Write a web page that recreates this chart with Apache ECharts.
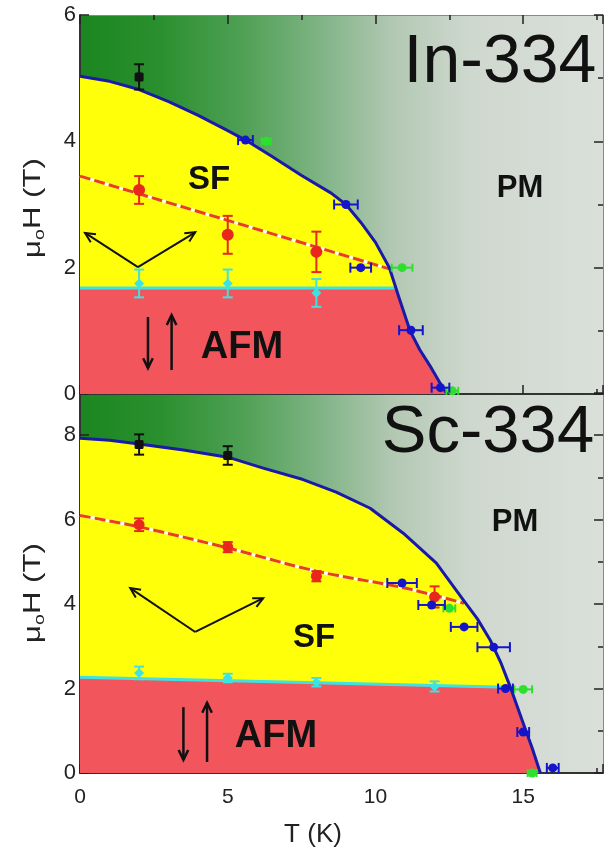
<!DOCTYPE html>
<html><head><meta charset="utf-8">
<script src="https://cdn.jsdelivr.net/npm/echarts@6/dist/echarts.min.js"></script>
<style>html,body{margin:0;padding:0;background:#fff}#c{width:606px;height:855px}</style>
</head><body><div id="c"></div>
<script>
// ---------- axis ticks ----------
const tTicks = [0, 5, 10, 15];
const inHTicks = [0, 2, 4, 6];
const scHTicks = [0, 2, 4, 6, 8];

// ---------- In-334 (top panel) ----------
const inBoundary = [[0,5.03],[1,4.95],[2,4.82],[3,4.63],[4,4.41],[5,4.17],[5.6,4.02],[6.5,3.76],[7.5,3.46],[8.5,3.18],[9.0,3.0],[9.5,2.72],[10.0,2.4],[10.47,2.0],[10.8,1.52],[11.17,1.0],[11.5,0.7],[11.84,0.45],[12.15,0.2],[12.42,0]];
const inSfLine = [[0,3.45],[10.47,1.98]];
const inAfmLine = [[0,1.68],[10.7,1.68]];
const inBlack = [[2,5.02,0.2]];
const inRed = [[2,3.23,0.22],[5,2.52,0.3],[8,2.25,0.32]];
const inCyan = [[2,1.75,0.22],[5,1.75,0.22],[8,1.6,0.22]];
const inBlue = [[5.6,4.02,0.25],[9.0,3.0,0.4],[9.5,2.0,0.35],[11.2,1.01,0.4],[12.2,0.1,0.3]];
const inGreen = [[6.3,4.0,0.15],[10.9,2.0,0.35],[12.6,0.05,0.2]];
const inArrows = [[1.96,2.01,0.17,2.55],[1.96,2.01,3.9,2.56],[2.3,1.22,2.3,0.41],[3.1,0.38,3.1,1.25]];

// ---------- Sc-334 (bottom panel) ----------
const scBoundary = [[0,7.93],[1,7.88],[2,7.79],[3.5,7.65],[5,7.48],[6.2,7.22],[7.55,6.95],[8.67,6.65],[9.82,6.27],[10.94,5.68],[12.06,4.97],[12.97,4.1],[13.45,3.65],[13.88,3.15],[14.25,2.6],[14.56,2.04],[15,1.18],[15.3,0.6],[15.58,0]];
const scSfLine = [[0,6.1],[2,5.83],[5,5.33],[8,4.78],[11,4.38],[13,4.02]];
const scAfmLine = [[0,2.27],[14.55,2.03]];
const scBlack = [[2,7.78,0.24],[5,7.52,0.22]];
const scRed = [[2,5.88,0.15],[5,5.35,0.12],[8,4.66,0.12],[12,4.17,0.25]];
const scCyan = [[2,2.37,0.15],[5,2.25,0.1],[8,2.15,0.1],[12,2.05,0.12]];
const scBlue = [[10.9,4.5,0.5],[11.9,3.98,0.45],[13.0,3.46,0.45],[14.0,2.98,0.55],[14.4,2.0,0.25],[15.0,0.97,0.2],[16.0,0.12,0.2]];
const scGreen = [[12.5,3.9,0.2],[15.0,1.98,0.3],[15.3,0.0,0.15]];
const scArrows = [[3.9,3.34,1.7,4.38],[3.9,3.34,6.2,4.14],[3.5,1.56,3.5,0.31],[4.3,0.26,4.3,1.66]];

const FONT = 'Liberation Sans, Arial, sans-serif';
const C = {yellow:'#ffff0a', red:'#f2555c', blue:'#1a1aa8', cyan:'#3fe2e2', redPt:'#e8281c', dash:'#e8401a', green:'#2ee02e', black:'#111'};

function redArea(afm, boundary){
  const end = afm[afm.length-1];
  const pts = afm.map(p => p.slice());
  boundary.forEach(p => { if (p[0] > end[0] && p[1] < end[1]) pts.push(p.slice()); });
  return pts;
}

function axesFor(gi, hMax, hTicks, showX){
  const hInt = hTicks[1]-hTicks[0];
  const tInt = tTicks[1]-tTicks[0];
  const xs = [
    {gridIndex:gi, type:'value', min:0, max:17.7, interval:tInt, position:'bottom',
     axisLine:{show:true, onZero:false, lineStyle:{color:'#333', width:2}},
     axisTick:{show:true, inside:true, length:9, lineStyle:{color:'#222', width:1.5}},
     minorTick:{show:true, splitNumber:2, length:5, lineStyle:{color:'#222', width:1.5}},
     axisLabel:{show:showX, showMaxLabel:false, color:'#222', fontSize:21, fontFamily:FONT, margin:14},
     splitLine:{show:false}, minorSplitLine:{show:false}}
  ];
  if (gi === 0) xs.push({gridIndex:gi, type:'value', min:0, max:17.7, interval:tInt, position:'top',
     axisLine:{show:true, onZero:false, lineStyle:{color:'#888', width:1}},
     axisTick:{show:true, inside:true, length:9, lineStyle:{color:'#222', width:1.5}},
     minorTick:{show:true, splitNumber:2, length:5, lineStyle:{color:'#222', width:1.5}},
     axisLabel:{show:false}, splitLine:{show:false}});
  const ys = [
    {gridIndex:gi, type:'value', min:0, max:hMax, interval:hInt, position:'left',
     axisLine:{show:true, onZero:false, lineStyle:{color:'#333', width:2}},
     axisTick:{show:true, inside:true, length:9, lineStyle:{color:'#222', width:1.5}},
     minorTick:{show:true, splitNumber:2, length:5, lineStyle:{color:'#222', width:1.5}},
     axisLabel:{show:true, showMaxLabel: hMax % hInt === 0, color:'#222', fontSize:22, fontFamily:FONT, margin:4},
     splitLine:{show:false}},
    {gridIndex:gi, type:'value', min:0, max:hMax, interval:hInt, position:'right',
     axisLine:{show:true, onZero:false, lineStyle:{color:'#888', width:1}},
     axisTick:{show:true, inside:true, length:9, lineStyle:{color:'#222', width:1.5}},
     minorTick:{show:true, splitNumber:2, length:5, lineStyle:{color:'#222', width:1.5}},
     axisLabel:{show:false}, splitLine:{show:false}}
  ];
  return {xs, ys};
}

function pointSeries(data, xi, yi, opt){
  return {
    type:'custom', xAxisIndex:xi, yAxisIndex:yi, z:10, silent:true,
    data: data,
    renderItem: function(params, api){
      const x = api.value(0), y = api.value(1), e = api.value(2);
      const c = api.coord([x, y]);
      const ch = [];
      const ls = {stroke: opt.color, lineWidth: opt.errWidth || 2};
      const cap = opt.cap || 5;
      if (opt.dir === 'y') {
        const a = api.coord([x, y - e]), b = api.coord([x, y + e]);
        ch.push({type:'line', shape:{x1:c[0], y1:a[1], x2:c[0], y2:b[1]}, style:ls});
        ch.push({type:'line', shape:{x1:c[0]-cap, y1:a[1], x2:c[0]+cap, y2:a[1]}, style:ls});
        ch.push({type:'line', shape:{x1:c[0]-cap, y1:b[1], x2:c[0]+cap, y2:b[1]}, style:ls});
      } else {
        const a = api.coord([x - e, y]), b = api.coord([x + e, y]);
        ch.push({type:'line', shape:{x1:a[0], y1:c[1], x2:b[0], y2:c[1]}, style:ls});
        ch.push({type:'line', shape:{x1:a[0], y1:c[1]-cap, x2:a[0], y2:c[1]+cap}, style:ls});
        ch.push({type:'line', shape:{x1:b[0], y1:c[1]-cap, x2:b[0], y2:c[1]+cap}, style:ls});
      }
      const r = opt.r;
      if (opt.shape === 'square') ch.push({type:'rect', shape:{x:c[0]-r, y:c[1]-r, width:2*r, height:2*r, r:1.5}, style:{fill:opt.color}});
      else if (opt.shape === 'diamond') ch.push({type:'polygon', shape:{points:[[c[0],c[1]-r],[c[0]+r,c[1]],[c[0],c[1]+r],[c[0]-r,c[1]]]}, style:{fill:opt.color}});
      else ch.push({type:'circle', shape:{cx:c[0], cy:c[1], r:r}, style:{fill:opt.color}});
      return {type:'group', children:ch};
    }
  };
}

function arrowSeries(data, xi, yi, width){
  return {
    type:'custom', xAxisIndex:xi, yAxisIndex:yi, z:11, silent:true, data:data,
    renderItem: function(params, api){
      const p1 = api.coord([api.value(0), api.value(1)]);
      const p2 = api.coord([api.value(2), api.value(3)]);
      const ang = Math.atan2(p2[1]-p1[1], p2[0]-p1[0]);
      const L = 11, s = 0.45;
      const h1 = [p2[0]-L*Math.cos(ang-s), p2[1]-L*Math.sin(ang-s)];
      const h2 = [p2[0]-L*Math.cos(ang+s), p2[1]-L*Math.sin(ang+s)];
      const st = {stroke:'#111', lineWidth:width, fill:null, lineJoin:'miter'};
      return {type:'group', children:[
        {type:'line', shape:{x1:p1[0], y1:p1[1], x2:p2[0], y2:p2[1]}, style:st},
        {type:'polyline', shape:{points:[h1, p2, h2]}, style:st}
      ]};
    }
  };
}

function panelSeries(xi, yi, P){
  return [
    {type:'line', xAxisIndex:xi, yAxisIndex:yi, data:P.boundary, smooth:false, symbol:'none', silent:true, z:1,
     lineStyle:{width:0}, areaStyle:{color:C.yellow, opacity:1}},
    {type:'line', xAxisIndex:xi, yAxisIndex:yi, data:redArea(P.afm, P.boundary), smooth:false, symbol:'none', silent:true, z:2,
     lineStyle:{width:0}, areaStyle:{color:C.red, opacity:1}},
    {type:'line', xAxisIndex:xi, yAxisIndex:yi, data:P.afm, symbol:'none', silent:true, z:3,
     lineStyle:{color:C.cyan, width:3}},
    {type:'line', xAxisIndex:xi, yAxisIndex:yi, data:P.sf, smooth:0.3, symbol:'none', silent:true, z:3,
     lineStyle:{color:'#ffffff', width:3}},
    {type:'line', xAxisIndex:xi, yAxisIndex:yi, data:P.sf, smooth:0.3, symbol:'none', silent:true, z:4,
     lineStyle:{color:C.dash, width:3, type:[11,4]}},
    {type:'line', xAxisIndex:xi, yAxisIndex:yi, data:P.boundary, smooth:false, symbol:'none', silent:true, z:5,
     lineStyle:{color:C.blue, width:3, join:'round'}},
    pointSeries(P.black, xi, yi, {dir:'y', color:C.black, shape:'square', r:4.5, cap:5}),
    pointSeries(P.red, xi, yi, {dir:'y', color:C.redPt, shape:'circle', r:P.redR, cap:5}),
    pointSeries(P.cyan, xi, yi, {dir:'y', color:C.cyan, shape:'diamond', r:5, cap:5}),
    pointSeries(P.green, xi, yi, {dir:'x', color:C.green, shape:'circle', r:4.5, cap:4}),
    pointSeries(P.blue, xi, yi, {dir:'x', color:'#1414c8', shape:'circle', r:4.5, cap:5}),
    arrowSeries(P.arrows.slice(0,2), xi, yi, 2),
    arrowSeries(P.arrows.slice(2), xi, yi, 2.5)
  ];
}

const grad = new echarts.graphic.LinearGradient(0, 0, 1, 0, [
  {offset:0, color:'#1b861f'}, {offset:0.15, color:'#2a8f2e'}, {offset:0.3, color:'#4c9f52'},
  {offset:0.45, color:'#7cb282'}, {offset:0.6, color:'#b3c8b3'}, {offset:0.75, color:'#cfd8cf'}, {offset:1, color:'#dadfda'}]);

const topAxes = axesFor(0, 6, inHTicks, false);
const botAxes = axesFor(1, 9, scHTicks, true);

const option = {
  animation:false,
  backgroundColor:'#ffffff',
  grid:[
    {left:80, top:15, width:523, height:379, show:true, borderWidth:0, backgroundColor:grad, outerBoundsMode:'none'},
    {left:80, top:393, width:523, height:380, show:true, borderWidth:0, backgroundColor:grad, outerBoundsMode:'none'}
  ],
  xAxis: topAxes.xs.concat(botAxes.xs),
  yAxis: topAxes.ys.concat(botAxes.ys),
  series: [].concat(
    panelSeries(0, 0, {boundary:inBoundary, afm:inAfmLine, sf:inSfLine, black:inBlack, red:inRed, cyan:inCyan, blue:inBlue, green:inGreen, arrows:inArrows, redR:6}),
    panelSeries(2, 2, {boundary:scBoundary, afm:scAfmLine, sf:scSfLine, black:scBlack, red:scRed, cyan:scCyan, blue:scBlue, green:scGreen, arrows:scArrows, redR:5.5})
  ),
  graphic: [
    {type:'text', x:500, y:63, z:20, style:{text:'In-334', font:'68px '+FONT, fill:'#111', align:'center', verticalAlign:'middle', textAlign:'center', textVerticalAlign:'middle'}},
    {type:'text', x:488, y:434, z:20, style:{text:'Sc-334', font:'67px '+FONT, fill:'#111', align:'center', verticalAlign:'middle', textAlign:'center', textVerticalAlign:'middle'}},
    {type:'text', x:520, y:188, z:20, style:{text:'PM', font:'bold 31px '+FONT, fill:'#111', align:'center', verticalAlign:'middle', textAlign:'center', textVerticalAlign:'middle'}},
    {type:'text', x:515, y:522, z:20, style:{text:'PM', font:'bold 31px '+FONT, fill:'#111', align:'center', verticalAlign:'middle', textAlign:'center', textVerticalAlign:'middle'}},
    {type:'text', x:209, y:180, z:20, style:{text:'SF', font:'bold 33px '+FONT, fill:'#111', align:'center', verticalAlign:'middle', textAlign:'center', textVerticalAlign:'middle'}},
    {type:'text', x:314, y:638, z:20, style:{text:'SF', font:'bold 33px '+FONT, fill:'#111', align:'center', verticalAlign:'middle', textAlign:'center', textVerticalAlign:'middle'}},
    {type:'text', x:242, y:348, z:20, style:{text:'AFM', font:'bold 38px '+FONT, fill:'#111', align:'center', verticalAlign:'middle', textAlign:'center', textVerticalAlign:'middle'}},
    {type:'text', x:276, y:737, z:20, style:{text:'AFM', font:'bold 38px '+FONT, fill:'#111', align:'center', verticalAlign:'middle', textAlign:'center', textVerticalAlign:'middle'}},
    {type:'text', x:313, y:835, z:20, style:{text:'T (K)', font:'26px '+FONT, fill:'#222', align:'center', verticalAlign:'middle', textAlign:'center', textVerticalAlign:'middle'}},
    {type:'text', x:33, y:208, z:20, rotation:Math.PI/2, scaleX:1.3, style:{text:'{a|μ}{b|o}{a|H (T)}', align:'center', verticalAlign:'middle', textAlign:'center', textVerticalAlign:'middle',
      rich:{a:{font:'24px '+FONT, fill:'#222', lineHeight:28}, b:{font:'15px '+FONT, fill:'#222', verticalAlign:'bottom', lineHeight:16}}}},
    {type:'text', x:33, y:593, z:20, rotation:Math.PI/2, scaleX:1.3, style:{text:'{a|μ}{b|o}{a|H (T)}', align:'center', verticalAlign:'middle', textAlign:'center', textVerticalAlign:'middle',
      rich:{a:{font:'24px '+FONT, fill:'#222', lineHeight:28}, b:{font:'15px '+FONT, fill:'#222', verticalAlign:'bottom', lineHeight:16}}}}
  ]
};
const chart = echarts.init(document.getElementById('c'), null, {renderer:'canvas'});
chart.setOption(option);
</script></body></html>
